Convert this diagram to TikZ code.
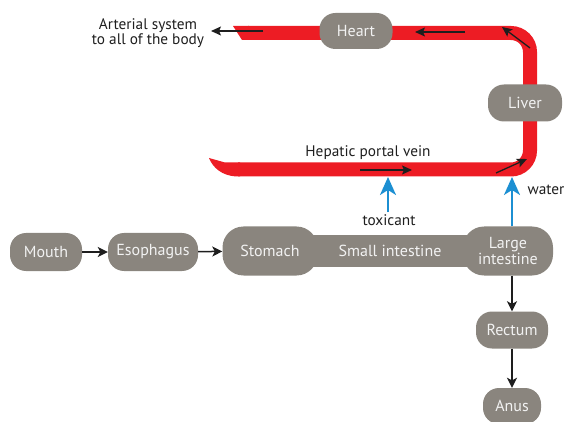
\documentclass[tikz,border=0pt]{standalone}
\usepackage{fontspec}
\setmainfont{PT Sans}
\usetikzlibrary{arrows.meta}
\definecolor{organ}{RGB}{138,133,126}
\definecolor{band}{RGB}{237,28,36}
\definecolor{flow}{RGB}{28,143,210}
\definecolor{ink}{RGB}{30,30,30}
\definecolor{lbl}{RGB}{242,242,242}
\begin{document}
\begin{tikzpicture}[x=1pt,y=-1pt,
  organbox/.style={fill=organ, rounded corners=16pt, text=lbl, font=\fontsize{16}{14}\selectfont,
    inner sep=0pt, minimum height=38pt, align=center},
  caption/.style={text=ink, font=\fontsize{15.3}{15}\selectfont, inner sep=0pt, align=center},
  arr/.style={ink, line width=1.5pt, -{Stealth[length=10pt,width=10pt,inset=2.5pt]}},
  bandarr/.style={ink, line width=1.3pt, -{Stealth[length=10pt,width=9pt,inset=2pt]}},
  flowarr/.style={flow, line width=2pt, -{Stealth[length=18pt,width=16pt,inset=5pt]}}]
\useasboundingbox (0,0) rectangle (565,422);
% red vessel
\draw[band, line width=14pt, rounded corners=19pt] (248,33) -- (530,33) -- (530,169.5) -- (238,169.5);
\fill[band] (233,26) -- (249,26) -- (249,40) -- (242,40) -- cycle;
\fill[band] (209,158) -- (225,162.5) -- (240,162.5) -- (240,176.5) -- (236,176.5)
  .. controls (222,175.5) and (213,168) .. (209,158) -- cycle;
% organs
\node[organbox, minimum width=73pt, minimum height=36pt] (heart) at (356,31) {Heart};
\node[organbox, minimum width=74pt, minimum height=37pt] (liver) at (525,103) {Liver};
\node[organbox, rounded corners=0pt, minimum width=180pt, minimum height=32pt] (si) at (390,251) {Small intestine};
\node[organbox, minimum width=72pt] (mouth) at (46,252) {Mouth};
\node[organbox, minimum width=90pt] (eso) at (153,252) {Esophagus};
\node[organbox, rounded corners=21pt, minimum width=95pt, minimum height=49pt] (stomach) at (270,251) {Stomach};
\node[organbox, rounded corners=21pt, minimum width=90pt, minimum height=49pt] (li) at (508,251) {Large\\intestine};
\node[organbox, minimum width=72pt, minimum height=37pt] (rectum) at (512,330) {Rectum};
\node[organbox, minimum width=58pt, minimum height=36pt] (anus) at (512,406) {Anus};
% captions
\node[caption] (arterial) at (148,33) {Arterial system\\to all of the body};
\node[caption] (hpv) at (368,153) {Hepatic portal vein};
\node[caption] (tox) at (389,220) {toxicant};
\node[caption] (water) at (546,190) {water};
% band arrows
\coordinate (a1s) at (263,31); \coordinate (a1e) at (211,31);
\coordinate (a2s) at (465,32); \coordinate (a2e) at (415,32);
\coordinate (a3s) at (530,48); \coordinate (a3e) at (502,27);
\coordinate (a4s) at (360,170); \coordinate (a4e) at (412,170);
\coordinate (a5s) at (496,173); \coordinate (a5e) at (527,159);
\draw[bandarr] (a1s) -- (a1e);
\draw[bandarr] (a2s) -- (a2e);
\draw[bandarr] (a3s) -- (a3e);
\draw[bandarr] (a4s) -- (a4e);
\draw[bandarr] (a5s) -- (a5e);
% absorption
\coordinate (ttip) at (388,177);
\coordinate (wtip) at (512,177);
\draw[flowarr] (tox.north -| ttip) ++(0,-2) -- (ttip);
\draw[flowarr] (li.north -| wtip) -- (wtip);
% digestive tract
\draw[arr] (mouth) -- (eso);
\draw[arr] (eso) -- (stomach);
\draw[arr] (li.south -| rectum.north) -- (rectum.north);
\draw[arr] (rectum) -- (anus);
\end{tikzpicture}
\end{document}
